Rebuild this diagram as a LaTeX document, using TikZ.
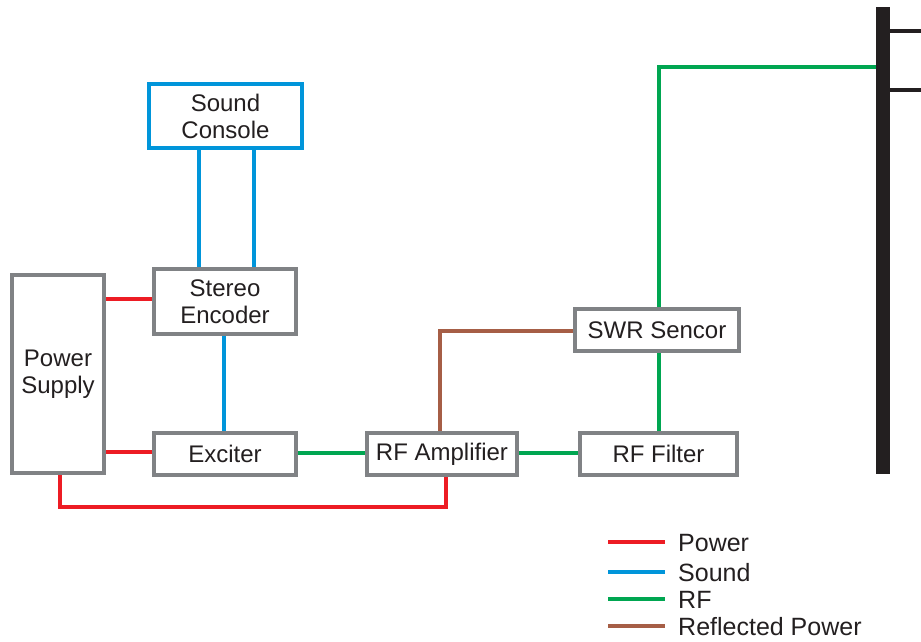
\documentclass[tikz,border=0pt]{standalone}
\usepackage{fontspec}
\setmainfont{Liberation Sans}
\definecolor{pwr}{HTML}{ED1C24}
\definecolor{snd}{HTML}{0095DA}
\definecolor{rfc}{HTML}{00A651}
\definecolor{refl}{HTML}{A65E46}
\definecolor{boxgray}{HTML}{808285}
\definecolor{ink}{HTML}{231F20}
\tikzset{
  blk/.style={draw=boxgray, line width=4pt, fill=white, inner sep=0pt, align=center,
    font=\fontsize{24pt}{27pt}\selectfont, text=ink},
  pwrline/.style={draw=pwr, line width=4pt},
  sndline/.style={draw=snd, line width=4pt},
  rfline/.style={draw=rfc, line width=4pt},
  reflline/.style={draw=refl, line width=4pt},
  legtext/.style={anchor=base west, inner sep=0pt, font=\fontsize{25pt}{27pt}\selectfont, text=ink},
}
\begin{document}
\begin{tikzpicture}[x=1pt, y=-1pt]
\useasboundingbox (0,0) rectangle (921,641);
% connectors drawn on top of boxes ending at borders
\node[blk, draw=snd, minimum width=153pt, minimum height=64pt] (sc) at (225.5,116) {Sound\\Console};
\node[blk, minimum width=142pt, minimum height=65pt] (se) at (225,301.5) {Stereo\\Encoder};
\node[blk, minimum width=92pt, minimum height=198pt] (ps) at (58,374) {Power\\Supply};
\node[blk, minimum width=142pt, minimum height=42pt] (ex) at (225,454) {Exciter};
\node[blk, minimum width=150pt, minimum height=42pt] (amp) at (442,454) {RF Amplifier};
\node[blk, minimum width=157pt, minimum height=42pt] (flt) at (658.5,454) {RF Filter};
\node[blk, minimum width=164pt, minimum height=42pt] (swr) at (657,330) {SWR Sencor};
\node[fill=ink, inner sep=0pt, minimum width=14pt, minimum height=467pt] (mast) at (883,240.5) {};
\coordinate (armA) at (921,31);
\coordinate (armB) at (921,90);
\draw[ink, line width=4pt] (mast.east |- armA) -- (armA);
\draw[ink, line width=4pt] (mast.east |- armB) -- (armB);
% sound
\draw[sndline] (199,0 |- sc.south) -- (199,0 |- se.north);
\draw[sndline] (254,0 |- sc.south) -- (254,0 |- se.north);
\draw[sndline] (224,0 |- se.south) -- (224,0 |- ex.north);
% power
\draw[pwrline] (ps.east |- 0,299) -- (se.west |- 0,299);
\draw[pwrline] (ps.east |- 0,452) -- (ex.west |- 0,452);
\draw[pwrline] (60,0 |- ps.south) -- (60,507) -- (446,507) -- (446,0 |- amp.south);
% rf
\draw[rfline] (ex.east |- 0,453) -- (amp.west |- 0,453);
\draw[rfline] (amp.east |- 0,453) -- (flt.west |- 0,453);
\draw[rfline] (659,0 |- flt.north) -- (659,0 |- swr.south);
\draw[rfline] (659,0 |- swr.north) -- (659,67) -- (mast.west |- 0,67);
% reflected
\draw[reflline] (swr.west |- 0,331) -- (440,331) -- (440,0 |- amp.north);
% legend
\draw[pwrline] (608,542) -- (665,542);
\draw[sndline] (608,572) -- (665,572);
\draw[rfline] (608,599) -- (665,599);
\draw[reflline] (608,626) -- (665,626);
\node[legtext] (lp) at (678,551) {Power};
\node[legtext] (ls) at (678,581) {Sound};
\node[legtext] (lr) at (678,608) {RF};
\node[legtext] (lf) at (678,635) {Reflected Power};
\end{tikzpicture}
\end{document}
